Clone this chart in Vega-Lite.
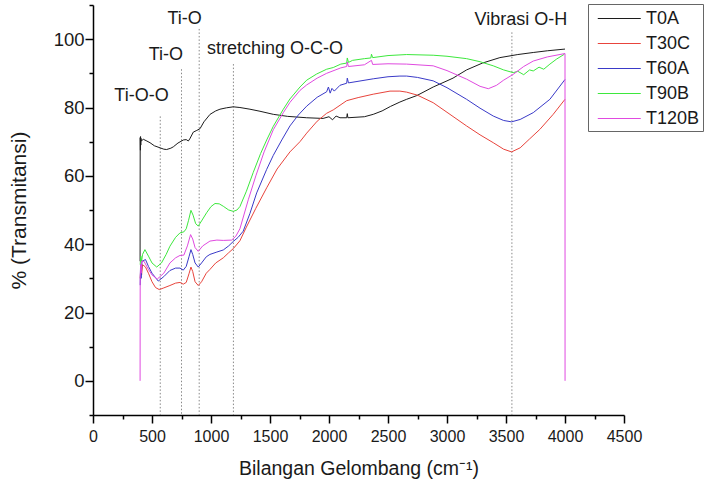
{
  "$schema": "https://vega.github.io/schema/vega-lite/v6.json",
  "width": 531,
  "height": 410,
  "autosize": {"type": "none"},
  "padding": {"left": 93, "top": 5, "right": 83, "bottom": 69},
  "background": "white",
  "config": {
    "view": {"stroke": null},
    "font": "Liberation Sans",
    "axis": {
      "domainColor": "#000000",
      "domainWidth": 1.5,
      "tickColor": "#000000",
      "tickWidth": 1.5,
      "labelColor": "#1a1a1a",
      "titleColor": "#1a1a1a",
      "titleFontWeight": "normal",
      "grid": false,
      "labelOverlap": false,
      "labelFlush": false
    }
  },
  "resolve": {"axis": {"x": "independent", "y": "independent"}},
  "datasets": {
    "spectra": [
      {"sampel": "T0A", "k": 399, "t": 35},
      {"sampel": "T0A", "k": 400, "t": 71.2},
      {"sampel": "T0A", "k": 402, "t": 67.5},
      {"sampel": "T0A", "k": 403, "t": 71.5},
      {"sampel": "T0A", "k": 405, "t": 69},
      {"sampel": "T0A", "k": 406, "t": 71},
      {"sampel": "T0A", "k": 410, "t": 70.2},
      {"sampel": "T0A", "k": 426, "t": 70.7},
      {"sampel": "T0A", "k": 450, "t": 70.3},
      {"sampel": "T0A", "k": 483, "t": 69.7},
      {"sampel": "T0A", "k": 520, "t": 68.8},
      {"sampel": "T0A", "k": 568, "t": 68.2},
      {"sampel": "T0A", "k": 600, "t": 67.8},
      {"sampel": "T0A", "k": 624, "t": 67.7},
      {"sampel": "T0A", "k": 660, "t": 68.1},
      {"sampel": "T0A", "k": 681, "t": 68.5},
      {"sampel": "T0A", "k": 720, "t": 69.6},
      {"sampel": "T0A", "k": 766, "t": 70.5},
      {"sampel": "T0A", "k": 790, "t": 70.6},
      {"sampel": "T0A", "k": 808, "t": 70.2},
      {"sampel": "T0A", "k": 820, "t": 70.8},
      {"sampel": "T0A", "k": 850, "t": 72.8},
      {"sampel": "T0A", "k": 880, "t": 73.3},
      {"sampel": "T0A", "k": 907, "t": 73.8},
      {"sampel": "T0A", "k": 940, "t": 75.8},
      {"sampel": "T0A", "k": 992, "t": 78.0},
      {"sampel": "T0A", "k": 1040, "t": 79.0},
      {"sampel": "T0A", "k": 1076, "t": 79.5},
      {"sampel": "T0A", "k": 1130, "t": 79.9},
      {"sampel": "T0A", "k": 1189, "t": 80.2},
      {"sampel": "T0A", "k": 1245, "t": 80.0},
      {"sampel": "T0A", "k": 1330, "t": 79.5},
      {"sampel": "T0A", "k": 1415, "t": 78.9},
      {"sampel": "T0A", "k": 1528, "t": 78.0},
      {"sampel": "T0A", "k": 1650, "t": 77.4},
      {"sampel": "T0A", "k": 1811, "t": 77.0},
      {"sampel": "T0A", "k": 1950, "t": 76.8},
      {"sampel": "T0A", "k": 2000, "t": 77.3},
      {"sampel": "T0A", "k": 2030, "t": 76.4},
      {"sampel": "T0A", "k": 2060, "t": 77.5},
      {"sampel": "T0A", "k": 2093, "t": 77.0},
      {"sampel": "T0A", "k": 2150, "t": 77.0},
      {"sampel": "T0A", "k": 2155, "t": 78.2},
      {"sampel": "T0A", "k": 2160, "t": 77.0},
      {"sampel": "T0A", "k": 2300, "t": 77.3},
      {"sampel": "T0A", "k": 2375, "t": 78.0},
      {"sampel": "T0A", "k": 2450, "t": 79.0},
      {"sampel": "T0A", "k": 2520, "t": 80.3},
      {"sampel": "T0A", "k": 2601, "t": 81.6},
      {"sampel": "T0A", "k": 2658, "t": 82.4},
      {"sampel": "T0A", "k": 2745, "t": 83.5},
      {"sampel": "T0A", "k": 2883, "t": 86.0},
      {"sampel": "T0A", "k": 3000, "t": 87.8},
      {"sampel": "T0A", "k": 3051, "t": 88.6},
      {"sampel": "T0A", "k": 3166, "t": 91.0},
      {"sampel": "T0A", "k": 3300, "t": 93.0},
      {"sampel": "T0A", "k": 3448, "t": 94.6},
      {"sampel": "T0A", "k": 3600, "t": 95.5},
      {"sampel": "T0A", "k": 3731, "t": 96.1},
      {"sampel": "T0A", "k": 3850, "t": 96.6},
      {"sampel": "T0A", "k": 4000, "t": 97.1},

      {"sampel": "T30C", "k": 400, "t": 30},
      {"sampel": "T30C", "k": 405, "t": 33},
      {"sampel": "T30C", "k": 412, "t": 31},
      {"sampel": "T30C", "k": 420, "t": 34},
      {"sampel": "T30C", "k": 445, "t": 33.3},
      {"sampel": "T30C", "k": 470, "t": 31.5},
      {"sampel": "T30C", "k": 500, "t": 29},
      {"sampel": "T30C", "k": 530, "t": 27.3},
      {"sampel": "T30C", "k": 562, "t": 26.7},
      {"sampel": "T30C", "k": 600, "t": 27.2},
      {"sampel": "T30C", "k": 652, "t": 27.9},
      {"sampel": "T30C", "k": 700, "t": 28.6},
      {"sampel": "T30C", "k": 737, "t": 28.8},
      {"sampel": "T30C", "k": 765, "t": 28.3},
      {"sampel": "T30C", "k": 790, "t": 28.8},
      {"sampel": "T30C", "k": 815, "t": 31.5},
      {"sampel": "T30C", "k": 830, "t": 33.3},
      {"sampel": "T30C", "k": 845, "t": 32.0},
      {"sampel": "T30C", "k": 865, "t": 29.0},
      {"sampel": "T30C", "k": 892, "t": 27.9},
      {"sampel": "T30C", "k": 920, "t": 29.0},
      {"sampel": "T30C", "k": 960, "t": 31.5},
      {"sampel": "T30C", "k": 991, "t": 32.6},
      {"sampel": "T30C", "k": 1040, "t": 34.5},
      {"sampel": "T30C", "k": 1104, "t": 36.0},
      {"sampel": "T30C", "k": 1150, "t": 37.5},
      {"sampel": "T30C", "k": 1189, "t": 38.7},
      {"sampel": "T30C", "k": 1245, "t": 41.0},
      {"sampel": "T30C", "k": 1300, "t": 45.0},
      {"sampel": "T30C", "k": 1380, "t": 50.5},
      {"sampel": "T30C", "k": 1472, "t": 56.5},
      {"sampel": "T30C", "k": 1560, "t": 62.0},
      {"sampel": "T30C", "k": 1669, "t": 67.0},
      {"sampel": "T30C", "k": 1754, "t": 70.0},
      {"sampel": "T30C", "k": 1811, "t": 72.5},
      {"sampel": "T30C", "k": 1900, "t": 76.0},
      {"sampel": "T30C", "k": 1980, "t": 78.3},
      {"sampel": "T30C", "k": 2036, "t": 79.3},
      {"sampel": "T30C", "k": 2150, "t": 82.0},
      {"sampel": "T30C", "k": 2247, "t": 82.9},
      {"sampel": "T30C", "k": 2375, "t": 83.9},
      {"sampel": "T30C", "k": 2517, "t": 84.8},
      {"sampel": "T30C", "k": 2601, "t": 84.8},
      {"sampel": "T30C", "k": 2658, "t": 84.5},
      {"sampel": "T30C", "k": 2750, "t": 83.6},
      {"sampel": "T30C", "k": 2883, "t": 81.4},
      {"sampel": "T30C", "k": 3000, "t": 78.6},
      {"sampel": "T30C", "k": 3166, "t": 74.6},
      {"sampel": "T30C", "k": 3280, "t": 72.0},
      {"sampel": "T30C", "k": 3392, "t": 69.7},
      {"sampel": "T30C", "k": 3480, "t": 67.8},
      {"sampel": "T30C", "k": 3547, "t": 67.0},
      {"sampel": "T30C", "k": 3620, "t": 68.2},
      {"sampel": "T30C", "k": 3700, "t": 70.8},
      {"sampel": "T30C", "k": 3787, "t": 73.6},
      {"sampel": "T30C", "k": 3900, "t": 78.0},
      {"sampel": "T30C", "k": 4000, "t": 82.4},

      {"sampel": "T60A", "k": 400, "t": 28},
      {"sampel": "T60A", "k": 403, "t": 34},
      {"sampel": "T60A", "k": 408, "t": 30},
      {"sampel": "T60A", "k": 415, "t": 35},
      {"sampel": "T60A", "k": 445, "t": 35.5},
      {"sampel": "T60A", "k": 470, "t": 33.5},
      {"sampel": "T60A", "k": 500, "t": 31.5},
      {"sampel": "T60A", "k": 553, "t": 29.2},
      {"sampel": "T60A", "k": 600, "t": 30.5},
      {"sampel": "T60A", "k": 652, "t": 32.3},
      {"sampel": "T60A", "k": 700, "t": 33.0},
      {"sampel": "T60A", "k": 737, "t": 33.0},
      {"sampel": "T60A", "k": 765, "t": 32.4},
      {"sampel": "T60A", "k": 790, "t": 33.5},
      {"sampel": "T60A", "k": 815, "t": 36.5},
      {"sampel": "T60A", "k": 830, "t": 38.4},
      {"sampel": "T60A", "k": 845, "t": 37.0},
      {"sampel": "T60A", "k": 865, "t": 34.5},
      {"sampel": "T60A", "k": 892, "t": 33.3},
      {"sampel": "T60A", "k": 920, "t": 34.5},
      {"sampel": "T60A", "k": 960, "t": 36.3},
      {"sampel": "T60A", "k": 991, "t": 37.0},
      {"sampel": "T60A", "k": 1050, "t": 37.7},
      {"sampel": "T60A", "k": 1104, "t": 38.3},
      {"sampel": "T60A", "k": 1150, "t": 39.5},
      {"sampel": "T60A", "k": 1189, "t": 40.8},
      {"sampel": "T60A", "k": 1230, "t": 42.0},
      {"sampel": "T60A", "k": 1273, "t": 43.8},
      {"sampel": "T60A", "k": 1330, "t": 49.0},
      {"sampel": "T60A", "k": 1387, "t": 55.0},
      {"sampel": "T60A", "k": 1472, "t": 61.9},
      {"sampel": "T60A", "k": 1528, "t": 66.0},
      {"sampel": "T60A", "k": 1600, "t": 70.5},
      {"sampel": "T60A", "k": 1669, "t": 74.6},
      {"sampel": "T60A", "k": 1740, "t": 77.8},
      {"sampel": "T60A", "k": 1811, "t": 80.4},
      {"sampel": "T60A", "k": 1900, "t": 83.0},
      {"sampel": "T60A", "k": 1980, "t": 84.6},
      {"sampel": "T60A", "k": 1995, "t": 86.0},
      {"sampel": "T60A", "k": 2010, "t": 84.2},
      {"sampel": "T60A", "k": 2025, "t": 85.6},
      {"sampel": "T60A", "k": 2045, "t": 84.8},
      {"sampel": "T60A", "k": 2093, "t": 86.5},
      {"sampel": "T60A", "k": 2150, "t": 87.1},
      {"sampel": "T60A", "k": 2155, "t": 88.6},
      {"sampel": "T60A", "k": 2165, "t": 87.2},
      {"sampel": "T60A", "k": 2375, "t": 88.4},
      {"sampel": "T60A", "k": 2500, "t": 89.0},
      {"sampel": "T60A", "k": 2601, "t": 89.2},
      {"sampel": "T60A", "k": 2658, "t": 89.2},
      {"sampel": "T60A", "k": 2750, "t": 88.8},
      {"sampel": "T60A", "k": 2883, "t": 87.8},
      {"sampel": "T60A", "k": 3000, "t": 85.8},
      {"sampel": "T60A", "k": 3166, "t": 82.4},
      {"sampel": "T60A", "k": 3280, "t": 79.8},
      {"sampel": "T60A", "k": 3392, "t": 77.5},
      {"sampel": "T60A", "k": 3480, "t": 76.2},
      {"sampel": "T60A", "k": 3547, "t": 75.8},
      {"sampel": "T60A", "k": 3620, "t": 76.5},
      {"sampel": "T60A", "k": 3731, "t": 78.5},
      {"sampel": "T60A", "k": 3872, "t": 82.4},
      {"sampel": "T60A", "k": 4000, "t": 88.2},

      {"sampel": "T90B", "k": 400, "t": 34},
      {"sampel": "T90B", "k": 405, "t": 36.5},
      {"sampel": "T90B", "k": 412, "t": 35},
      {"sampel": "T90B", "k": 420, "t": 37},
      {"sampel": "T90B", "k": 440, "t": 38.4},
      {"sampel": "T90B", "k": 470, "t": 36.5},
      {"sampel": "T90B", "k": 500, "t": 34.5},
      {"sampel": "T90B", "k": 540, "t": 33.3},
      {"sampel": "T90B", "k": 580, "t": 34.5},
      {"sampel": "T90B", "k": 620, "t": 37.0},
      {"sampel": "T90B", "k": 652, "t": 39.4},
      {"sampel": "T90B", "k": 700, "t": 42.0},
      {"sampel": "T90B", "k": 737, "t": 43.3},
      {"sampel": "T90B", "k": 770, "t": 43.6},
      {"sampel": "T90B", "k": 790, "t": 44.5},
      {"sampel": "T90B", "k": 810, "t": 47.0},
      {"sampel": "T90B", "k": 830, "t": 49.9},
      {"sampel": "T90B", "k": 848, "t": 48.5},
      {"sampel": "T90B", "k": 870, "t": 46.0},
      {"sampel": "T90B", "k": 892, "t": 45.3},
      {"sampel": "T90B", "k": 920, "t": 46.8},
      {"sampel": "T90B", "k": 963, "t": 49.2},
      {"sampel": "T90B", "k": 1000, "t": 51.0},
      {"sampel": "T90B", "k": 1034, "t": 51.9},
      {"sampel": "T90B", "k": 1070, "t": 51.8},
      {"sampel": "T90B", "k": 1104, "t": 51.1},
      {"sampel": "T90B", "k": 1150, "t": 50.0},
      {"sampel": "T90B", "k": 1189, "t": 49.6},
      {"sampel": "T90B", "k": 1220, "t": 50.0},
      {"sampel": "T90B", "k": 1245, "t": 51.0},
      {"sampel": "T90B", "k": 1300, "t": 55.5},
      {"sampel": "T90B", "k": 1358, "t": 61.0},
      {"sampel": "T90B", "k": 1420, "t": 66.5},
      {"sampel": "T90B", "k": 1472, "t": 70.5},
      {"sampel": "T90B", "k": 1528, "t": 74.5},
      {"sampel": "T90B", "k": 1613, "t": 79.5},
      {"sampel": "T90B", "k": 1669, "t": 82.5},
      {"sampel": "T90B", "k": 1754, "t": 86.0},
      {"sampel": "T90B", "k": 1811, "t": 88.0},
      {"sampel": "T90B", "k": 1895, "t": 89.8},
      {"sampel": "T90B", "k": 1980, "t": 91.2},
      {"sampel": "T90B", "k": 2036, "t": 91.7},
      {"sampel": "T90B", "k": 2100, "t": 92.7},
      {"sampel": "T90B", "k": 2150, "t": 93.0},
      {"sampel": "T90B", "k": 2155, "t": 94.5},
      {"sampel": "T90B", "k": 2165, "t": 93.2},
      {"sampel": "T90B", "k": 2200, "t": 93.8},
      {"sampel": "T90B", "k": 2300, "t": 94.3},
      {"sampel": "T90B", "k": 2355, "t": 94.5},
      {"sampel": "T90B", "k": 2360, "t": 95.6},
      {"sampel": "T90B", "k": 2370, "t": 94.6},
      {"sampel": "T90B", "k": 2500, "t": 95.2},
      {"sampel": "T90B", "k": 2658, "t": 95.5},
      {"sampel": "T90B", "k": 2883, "t": 95.3},
      {"sampel": "T90B", "k": 3000, "t": 95.0},
      {"sampel": "T90B", "k": 3166, "t": 94.3},
      {"sampel": "T90B", "k": 3280, "t": 93.4},
      {"sampel": "T90B", "k": 3392, "t": 92.2},
      {"sampel": "T90B", "k": 3480, "t": 91.0},
      {"sampel": "T90B", "k": 3561, "t": 90.2},
      {"sampel": "T90B", "k": 3600, "t": 90.6},
      {"sampel": "T90B", "k": 3650, "t": 89.6},
      {"sampel": "T90B", "k": 3700, "t": 91.0},
      {"sampel": "T90B", "k": 3731, "t": 90.7},
      {"sampel": "T90B", "k": 3780, "t": 91.8},
      {"sampel": "T90B", "k": 3820, "t": 91.2},
      {"sampel": "T90B", "k": 3872, "t": 92.7},
      {"sampel": "T90B", "k": 3930, "t": 94.2},
      {"sampel": "T90B", "k": 3995, "t": 95.6},

      {"sampel": "T120B", "k": 399, "t": 0},
      {"sampel": "T120B", "k": 400, "t": 30},
      {"sampel": "T120B", "k": 404, "t": 34},
      {"sampel": "T120B", "k": 408, "t": 31.5},
      {"sampel": "T120B", "k": 413, "t": 35},
      {"sampel": "T120B", "k": 432, "t": 35},
      {"sampel": "T120B", "k": 470, "t": 32.6},
      {"sampel": "T120B", "k": 500, "t": 31.0},
      {"sampel": "T120B", "k": 545, "t": 29.8},
      {"sampel": "T120B", "k": 600, "t": 31.5},
      {"sampel": "T120B", "k": 652, "t": 34.5},
      {"sampel": "T120B", "k": 700, "t": 36.0},
      {"sampel": "T120B", "k": 737, "t": 36.7},
      {"sampel": "T120B", "k": 770, "t": 36.8},
      {"sampel": "T120B", "k": 800, "t": 39.5},
      {"sampel": "T120B", "k": 827, "t": 42.8},
      {"sampel": "T120B", "k": 845, "t": 41.5},
      {"sampel": "T120B", "k": 865, "t": 39.0},
      {"sampel": "T120B", "k": 892, "t": 37.9},
      {"sampel": "T120B", "k": 930, "t": 39.5},
      {"sampel": "T120B", "k": 991, "t": 40.9},
      {"sampel": "T120B", "k": 1050, "t": 41.2},
      {"sampel": "T120B", "k": 1104, "t": 41.1},
      {"sampel": "T120B", "k": 1175, "t": 41.2},
      {"sampel": "T120B", "k": 1210, "t": 42.3},
      {"sampel": "T120B", "k": 1245, "t": 44.5},
      {"sampel": "T120B", "k": 1316, "t": 53.0},
      {"sampel": "T120B", "k": 1380, "t": 60.0},
      {"sampel": "T120B", "k": 1450, "t": 67.0},
      {"sampel": "T120B", "k": 1528, "t": 73.5},
      {"sampel": "T120B", "k": 1613, "t": 78.5},
      {"sampel": "T120B", "k": 1669, "t": 81.5},
      {"sampel": "T120B", "k": 1754, "t": 85.0},
      {"sampel": "T120B", "k": 1811, "t": 86.6},
      {"sampel": "T120B", "k": 1900, "t": 88.6},
      {"sampel": "T120B", "k": 1980, "t": 90.0},
      {"sampel": "T120B", "k": 2100, "t": 91.6},
      {"sampel": "T120B", "k": 2150, "t": 92.0},
      {"sampel": "T120B", "k": 2155, "t": 93.3},
      {"sampel": "T120B", "k": 2165, "t": 92.0},
      {"sampel": "T120B", "k": 2300, "t": 92.5},
      {"sampel": "T120B", "k": 2360, "t": 93.8},
      {"sampel": "T120B", "k": 2370, "t": 92.6},
      {"sampel": "T120B", "k": 2500, "t": 92.8},
      {"sampel": "T120B", "k": 2658, "t": 92.7},
      {"sampel": "T120B", "k": 2883, "t": 92.2},
      {"sampel": "T120B", "k": 3000, "t": 90.8},
      {"sampel": "T120B", "k": 3166, "t": 88.3},
      {"sampel": "T120B", "k": 3280, "t": 86.2},
      {"sampel": "T120B", "k": 3350, "t": 85.5},
      {"sampel": "T120B", "k": 3420, "t": 86.5},
      {"sampel": "T120B", "k": 3480, "t": 88.0},
      {"sampel": "T120B", "k": 3561, "t": 89.7},
      {"sampel": "T120B", "k": 3650, "t": 92.0},
      {"sampel": "T120B", "k": 3731, "t": 93.6},
      {"sampel": "T120B", "k": 3850, "t": 94.8},
      {"sampel": "T120B", "k": 4000, "t": 95.8},
      {"sampel": "T120B", "k": 4000.5, "t": 0}
    ],
    "bands": [
      {"k": 570, "top": 77.4, "bottom": -10},
      {"k": 750, "top": 91.2, "bottom": -10},
      {"k": 900, "top": 103, "bottom": -10},
      {"k": 1190, "top": 92.7, "bottom": -10},
      {"k": 3550, "top": 102, "bottom": -10}
    ],
    "notes": [
      {"k": 411, "t": 82.0, "teks": "Ti-O-O"},
      {"k": 617, "t": 94.0, "teks": "Ti-O"},
      {"k": 777, "t": 104.4, "teks": "Ti-O"},
      {"k": 1543, "t": 95.7, "teks": "stretching O-C-O"},
      {"k": 3626, "t": 104.2, "teks": "Vibrasi O-H"}
    ]
  },
  "layer": [
    {
      "data": {"name": "bands"},
      "mark": {"type": "rule", "color": "#888888", "strokeWidth": 1, "strokeDash": [1.5, 2]},
      "encoding": {
        "x": {
          "field": "k",
          "type": "quantitative",
          "scale": {"domain": [0, 4500], "nice": false},
          "axis": {
            "orient": "bottom",
            "title": null,
            "domain": false,
            "labels": false,
            "tickSize": 4,
            "values": [250, 750, 1250, 1750, 2250, 2750, 3250, 3750, 4250]
          }
        },
        "y": {
          "field": "top",
          "type": "quantitative",
          "scale": {"domain": [-10, 110], "nice": false},
          "axis": {
            "orient": "left",
            "title": null,
            "domain": false,
            "labels": false,
            "tickSize": 4,
            "values": [-10, 10, 30, 50, 70, 90, 110]
          }
        },
        "y2": {"field": "bottom"}
      }
    },
    {
      "data": {"name": "spectra"},
      "mark": {"type": "line", "strokeWidth": 1, "clip": true},
      "encoding": {
        "x": {
          "field": "k",
          "type": "quantitative",
          "scale": {"domain": [0, 4500], "nice": false},
          "axis": {
            "orient": "bottom",
            "title": "Bilangan Gelombang (cm⁻¹)",
            "titleFontSize": 19.5,
            "titlePadding": 15,
            "labelFontSize": 16,
            "labelPadding": 5,
            "tickSize": 8,
            "values": [0, 500, 1000, 1500, 2000, 2500, 3000, 3500, 4000, 4500],
            "format": "d"
          }
        },
        "y": {
          "field": "t",
          "type": "quantitative",
          "scale": {"domain": [-10, 110], "nice": false},
          "axis": {
            "orient": "left",
            "title": "% (Transmitansi)",
            "titleFontSize": 21,
            "titlePadding": 24,
            "labelFontSize": 18.5,
            "labelPadding": 1,
            "tickSize": 8,
            "values": [0, 20, 40, 60, 80, 100],
            "format": "d"
          }
        },
        "color": {
          "field": "sampel",
          "type": "nominal",
          "scale": {
            "domain": ["T0A", "T30C", "T60A", "T90B", "T120B"],
            "range": ["#1c1c1c", "#e8443c", "#3a3ac8", "#3de83d", "#e04ae0"]
          },
          "legend": {
            "title": null,
            "orient": "none",
            "legendX": 495,
            "legendY": -1,
            "fillColor": "white",
            "strokeColor": "#666666",
            "padding": 3,
            "symbolType": "M-0.44,0H3.56",
            "symbolSize": 462,
            "symbolStrokeWidth": 1,
            "labelFontSize": 18,
            "labelColor": "#1a1a1a",
            "labelOffset": 32,
            "rowPadding": 4
          }
        }
      }
    },
    {
      "data": {"name": "notes"},
      "mark": {"type": "text", "fontSize": 18, "color": "#1a1a1a", "baseline": "alphabetic", "align": "center"},
      "encoding": {
        "x": {"field": "k", "type": "quantitative", "axis": null},
        "y": {"field": "t", "type": "quantitative", "axis": null},
        "text": {"field": "teks"}
      }
    }
  ]
}
